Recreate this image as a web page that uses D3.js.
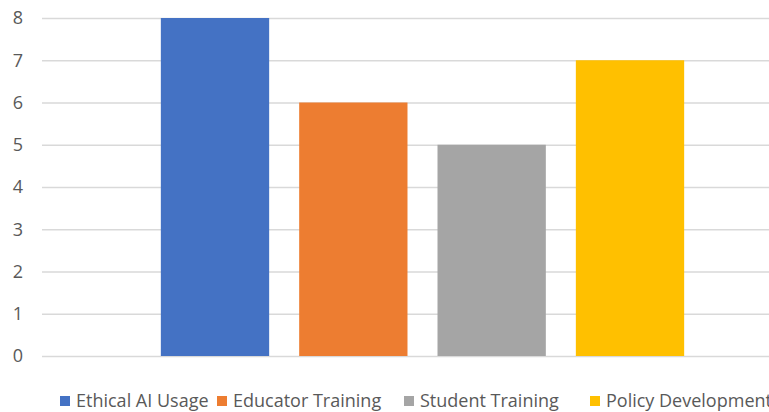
<!DOCTYPE html>
<html>
<head>
<meta charset="utf-8">
<script src="https://cdn.jsdelivr.net/npm/d3@7"></script>
<style>
  body { margin: 0; background: #fff; }
  text { font-family: "Open Sans", "Noto Sans", sans-serif; fill: #595959; }
</style>
</head>
<body>
<script>
var svgWidth = 769;
var svgHeight = 412;

var categories = [""];
var seriesNames = ["Ethical AI Usage", "Educator Training", "Student Training", "Policy Development"];
var seriesValues = [8, 6, 5, 7];
var seriesColors = ["#4472C4", "#ED7D31", "#A5A5A5", "#FFC000"];
var yTicks = [0, 1, 2, 3, 4, 5, 6, 7, 8];

var margin = { top: 18, right: -34, bottom: 56, left: 42 };
var chartWidth = svgWidth - margin.left - margin.right;
var chartHeight = svgHeight - margin.top - margin.bottom;

var svg = d3.select("body")
  .append("svg")
  .attr("width", svgWidth)
  .attr("height", svgHeight);

var chartGroup = svg.append("g")
  .attr("transform", `translate(${margin.left}, ${margin.top})`);

var yScale = d3.scaleLinear()
  .domain([0, 8])
  .range([chartHeight, 0]);

var x0 = d3.scaleBand()
  .domain(categories)
  .range([0, chartWidth])
  .padding(0.158);

var x1 = d3.scaleBand()
  .domain(seriesNames)
  .range([0, x0.bandwidth()])
  .paddingInner(0.217)
  .paddingOuter(0.1085);

// gridlines
chartGroup.selectAll(".grid")
  .data(yTicks)
  .enter()
  .append("line")
  .attr("x1", 0)
  .attr("x2", chartWidth)
  .attr("y1", d => yScale(d) + 0.5)
  .attr("y2", d => yScale(d) + 0.5)
  .attr("stroke", "#d9d9d9")
  .attr("stroke-width", 1.3);

// y labels
var yAxis = d3.axisLeft(yScale).tickValues(yTicks).tickSize(0).tickPadding(19);
var yAxisGroup = chartGroup.append("g").call(yAxis);
yAxisGroup.select(".domain").remove();
yAxisGroup.selectAll("text")
  .style("font-size", "18px")
  .style("font-family", "'Open Sans', sans-serif")
  .attr("fill", "#595959");

// bars
var barData = seriesNames.map((name, i) => ({ name: name, value: seriesValues[i], color: seriesColors[i] }));
chartGroup.selectAll(".bar")
  .data(barData)
  .enter()
  .append("rect")
  .attr("x", d => x0(categories[0]) + x1(d.name))
  .attr("y", d => yScale(d.value))
  .attr("width", x1.bandwidth())
  .attr("height", d => chartHeight - yScale(d.value))
  .attr("fill", d => d.color);

// legend
var legendX = [60, 217, 404, 590];
var legend = svg.append("g");
barData.forEach(function(d, i) {
  var item = legend.append("g").attr("transform", `translate(${legendX[i]}, 396)`);
  item.append("rect")
    .attr("width", 10)
    .attr("height", 10)
    .attr("fill", d.color);
  item.append("text")
    .attr("x", 16)
    .attr("y", 11)
    .style("font-size", "18px")
    .text(d.name);
});
</script>
</body>
</html>
